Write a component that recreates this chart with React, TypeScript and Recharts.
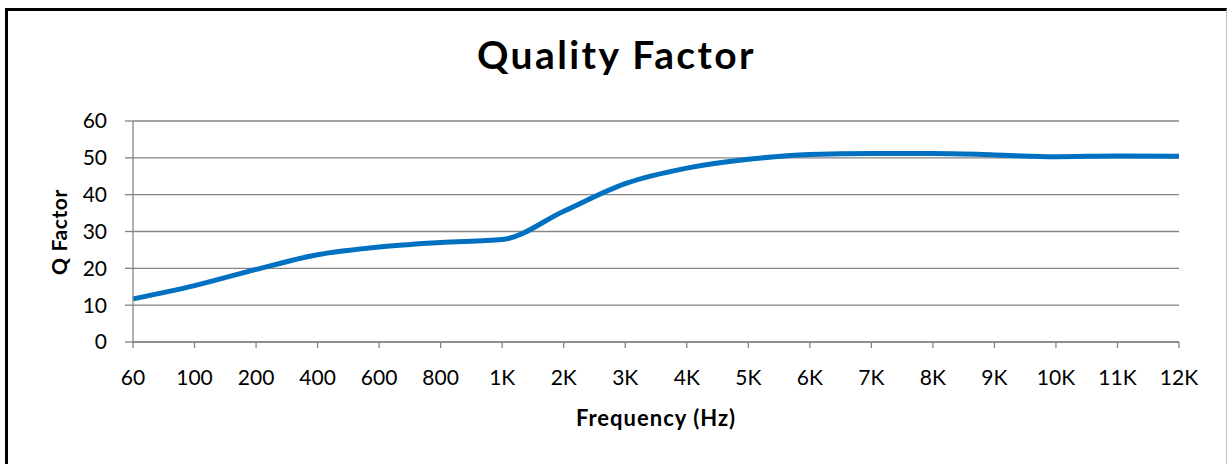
// Quality Factor line chart
import { LineChart, Line, XAxis, YAxis, CartesianGrid, Label } from "recharts";

const frequencies = ["60", "100", "200", "400", "600", "800", "1K", "2K", "3K", "4K", "5K", "6K", "7K", "8K", "9K", "10K", "11K", "12K"];
const qFactor = [11.7, 15.3, 19.7, 23.7, 25.8, 27.0, 27.8, 35.5, 43.0, 47.2, 49.6, 50.9, 51.2, 51.2, 50.8, 50.3, 50.5, 50.4];
const yTicks = [0, 10, 20, 30, 40, 50, 60];

const data = frequencies.map((f, i) => ({ freq: f, q: qFactor[i] }));

const FONT = "Lato, 'Open Sans', sans-serif";
const GREY = "#868686";

export default function App() {
  return (
    <div style={{ position: "absolute", left: 0, top: 0, width: 1227, height: 464, background: "#fff", overflow: "hidden", fontFamily: FONT }}>
      <div
        style={{
          position: "absolute",
          left: 5,
          top: 8,
          width: 1222,
          height: 470,
          boxSizing: "border-box",
          borderTop: "3px solid #000",
          borderLeft: "3px solid #000",
          borderRight: "1px solid #bfbfbf",
        }}
      />
      <div
        style={{
          position: "absolute",
          left: 0,
          width: 1233,
          top: 32,
          textAlign: "center",
          fontSize: 39,
          fontWeight: 700,
          letterSpacing: 2.4,
          color: "#000",
          lineHeight: "44px",
        }}
      >
        Quality Factor
      </div>
      <div style={{ position: "absolute", left: 0, top: 0 }}>
        <LineChart width={1227} height={464} data={data} margin={{ top: 121, right: 48, left: 0, bottom: 0 }}>
          <CartesianGrid vertical={false} stroke={GREY} strokeWidth={1.3} />
          <XAxis
            dataKey="freq"
            height={122}
            interval={0}
            stroke={GREY}
            strokeWidth={1.3}
            tickSize={6}
            tickMargin={22}
            tick={{ fill: "#000", fontSize: 21, fontFamily: FONT }}
          >
            <Label
              value="Frequency (Hz)"
              position="insideBottom"
              offset={38}
              style={{ fontSize: 22, fontWeight: 700, letterSpacing: 1, fill: "#000", fontFamily: FONT }}
            />
          </XAxis>
          <YAxis
            width={133}
            domain={[0, 60]}
            ticks={yTicks}
            interval={0}
            stroke={GREY}
            strokeWidth={1.3}
            tickSize={8}
            tickMargin={18}
            tick={{ fill: "#000", fontSize: 21, fontFamily: FONT }}
          >
            <Label
              content={() => (
                <text
                  x={58}
                  y={232}
                  transform="rotate(-90 58 232)"
                  textAnchor="middle"
                  dominantBaseline="central"
                  style={{ fontSize: 21, fontWeight: 700, letterSpacing: 0.6, fill: "#000", fontFamily: FONT }}
                >
                  Q Factor
                </text>
              )}
            />
          </YAxis>
          <Line
            type="monotone"
            dataKey="q"
            stroke="#0070C0"
            strokeWidth={5}
            dot={false}
            activeDot={false}
            isAnimationActive={false}
          />
        </LineChart>
      </div>
    </div>
  );
}
